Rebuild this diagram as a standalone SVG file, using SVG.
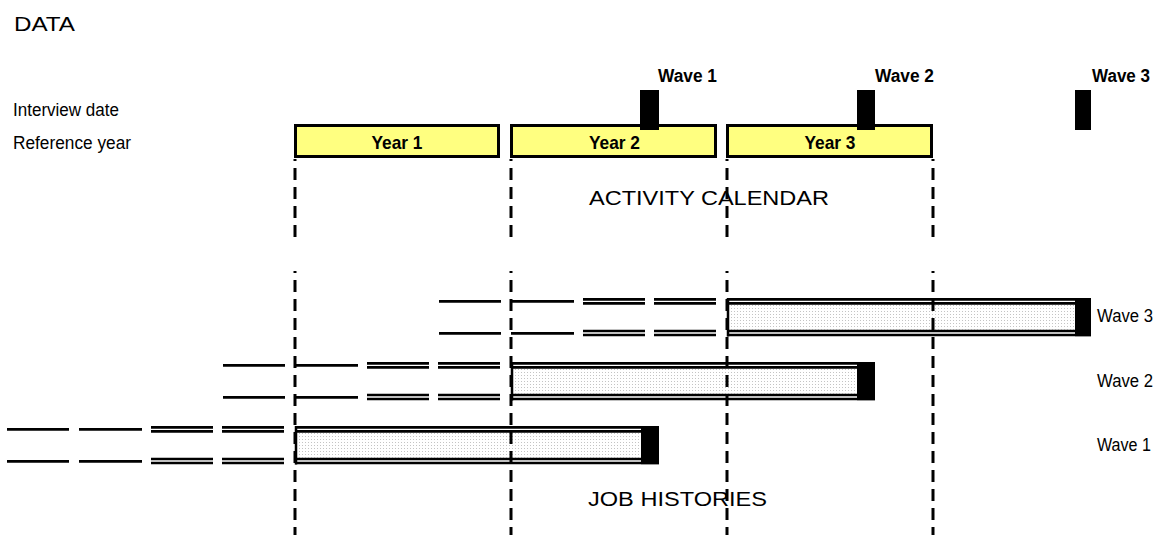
<svg xmlns="http://www.w3.org/2000/svg" width="1155" height="535" viewBox="0 0 1155 535">
<style>
text{font-family:"Liberation Sans",Arial,sans-serif;fill:#000}
.lbl{font-size:17.5px}
.big{font-size:20.5px}
.bold{font-size:18px;font-weight:bold}
.yb{font-size:19px;font-weight:bold}
.yr{fill:#FFFF80;stroke:#000;stroke-width:3}
.vd{stroke:#000;stroke-width:3;fill:none;stroke-dasharray:12 7}
.ln{stroke:#000;stroke-width:2.7;fill:none}
.blk{fill:#000}
</style>
<defs>
<pattern id="dots" width="3" height="3" patternUnits="userSpaceOnUse">
<rect width="3" height="3" fill="#fff"/>
<rect x="1" y="1" width="1" height="1" fill="#c4c4c4"/>
</pattern>
</defs>
<rect width="1155" height="535" fill="#fff"/>
<text x="14" y="31" style="font-size:20px" textLength="61" lengthAdjust="spacingAndGlyphs">DATA</text>
<text class="lbl" x="13" y="116" textLength="106" lengthAdjust="spacingAndGlyphs">Interview date</text>
<text class="lbl" x="13" y="149" textLength="118" lengthAdjust="spacingAndGlyphs">Reference year</text>

<g id="year1"><rect class="yr" x="295.5" y="125.5" width="203" height="31"/><text class="yb" x="397" y="149" text-anchor="middle" textLength="51" lengthAdjust="spacingAndGlyphs">Year 1</text></g>
<g id="year2"><rect class="yr" x="511.5" y="125.5" width="204" height="31"/><text class="yb" x="614.5" y="149" text-anchor="middle" textLength="51" lengthAdjust="spacingAndGlyphs">Year 2</text></g>
<g id="year3"><rect class="yr" x="727.5" y="125.5" width="204" height="31"/><text class="yb" x="830" y="149" text-anchor="middle" textLength="51" lengthAdjust="spacingAndGlyphs">Year 3</text></g>

<g id="interview1"><rect class="blk" x="640" y="90" width="19" height="40"/><text class="bold" x="658" y="82" textLength="59" lengthAdjust="spacingAndGlyphs">Wave 1</text></g>
<g id="interview2"><rect class="blk" x="857" y="90" width="18" height="40"/><text class="bold" x="875" y="82" textLength="59" lengthAdjust="spacingAndGlyphs">Wave 2</text></g>
<g id="interview3"><rect class="blk" x="1075" y="90" width="16" height="40"/><text class="bold" x="1092" y="82" textLength="58" lengthAdjust="spacingAndGlyphs">Wave 3</text></g>

<text class="big" x="589" y="205" textLength="240" lengthAdjust="spacingAndGlyphs">ACTIVITY CALENDAR</text>
<text class="big" x="588" y="506" textLength="179" lengthAdjust="spacingAndGlyphs">JOB HISTORIES</text>

<g id="wave1" transform="translate(295,426)">
<rect x="0" y="6.7" width="346" height="25" fill="url(#dots)"/>
<path class="ln" d="M-288 3.35H-226M-216 3.35H-153M-288 35.35H-226M-216 35.35H-153"/>
<path class="ln" d="M-144 1.35H-82M-73 1.35H-11M-144 5.35H-82M-73 5.35H-11M-144 33H-82M-73 33H-11M-144 37H-82M-73 37H-11"/>
<path class="ln" d="M0 1.35H346M0 5.35H346M0 33H346M0 37H346"/>
<rect class="blk" x="346" y="0" width="18" height="38.4"/>
<text class="lbl" x="802" y="25" textLength="54" lengthAdjust="spacingAndGlyphs">Wave 1</text>
</g>
<g id="wave2" transform="translate(511,362)">
<rect x="0" y="6.7" width="346" height="25" fill="url(#dots)"/>
<path class="ln" d="M-288 3.35H-226M-216 3.35H-153M-288 35.35H-226M-216 35.35H-153"/>
<path class="ln" d="M-144 1.35H-82M-73 1.35H-11M-144 5.35H-82M-73 5.35H-11M-144 33H-82M-73 33H-11M-144 37H-82M-73 37H-11"/>
<path class="ln" d="M0 1.35H346M0 5.35H346M0 33H346M0 37H346"/>
<rect class="blk" x="346" y="0" width="18" height="38.4"/>
<text class="lbl" x="586" y="25" textLength="56" lengthAdjust="spacingAndGlyphs">Wave 2</text>
</g>
<g id="wave3" transform="translate(727,298)">
<rect x="0" y="6.7" width="348" height="25" fill="url(#dots)"/>
<path class="ln" d="M-288 3.35H-226M-216 3.35H-153M-288 35.35H-226M-216 35.35H-153"/>
<path class="ln" d="M-144 1.35H-82M-73 1.35H-11M-144 5.35H-82M-73 5.35H-11M-144 33H-82M-73 33H-11M-144 37H-82M-73 37H-11"/>
<path class="ln" d="M0 1.35H348M0 5.35H348M0 33H348M0 37H348"/>
<rect class="blk" x="348" y="0" width="16" height="38.4"/>
<text class="lbl" x="370" y="24" textLength="56" lengthAdjust="spacingAndGlyphs">Wave 3</text>
</g>

<g id="connectors">
<path class="vd" stroke-dashoffset="10" d="M295 159V238M511 159V238M727 159V238M933 159V238"/>
<path class="vd" stroke-dashoffset="10" d="M295 271V535M511 271V535M727 271V535M933 271V535"/>
<path stroke="#000" stroke-width="2.5" d="M296 426V464.4M512 362V400.4M728 298V336.4"/>
</g>
</svg>
